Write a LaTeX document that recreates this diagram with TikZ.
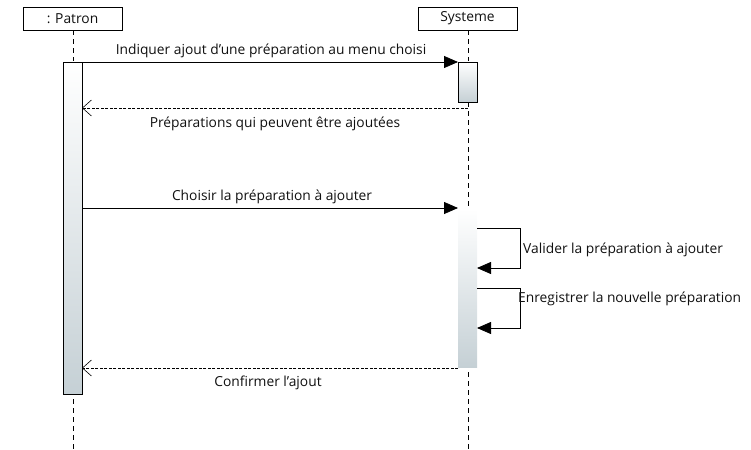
\documentclass[tikz,border=0pt]{standalone}
\usepackage{fontspec}
\setmainfont{Open Sans}
\usetikzlibrary{arrows.meta}
\definecolor{actbot}{HTML}{C5D0D5}
\definecolor{txt}{HTML}{101010}
\newcommand{\sq}{{\char"27}}
\tikzset{
  x=1pt,y=-1pt,
  every node/.style={font=\fontsize{13.8}{16}\selectfont, text=txt, inner sep=0pt},
  headbox/.style={draw, line width=0.8pt, minimum width=99pt, minimum height=23pt, fill=white},
  lifeline/.style={dashed, dash pattern=on 5pt off 4pt, line width=0.8pt},
  actbox/.style={top color=white, bottom color=actbot},
  msg/.style={line width=0.8pt, -{Triangle[length=14pt,width=12pt]}},
  ret/.style={line width=0.6pt, dash pattern=on 3pt off 1.5pt, -{Straight Barb[length=9pt,width=16pt,line width=0.6pt]}},
}
\begin{document}
\begin{tikzpicture}
\useasboundingbox (0,0) rectangle (751,449);
% heads
\node[headbox] (patron) at (72.5,18.5) {: Patron};
\node[headbox] (systeme) at (467.5,18.5) {Systeme};
\coordinate (pend) at (73,449);
\coordinate (send) at (468,449);
\draw[lifeline] (patron.south -| pend) -- (pend);
\draw[lifeline] (systeme.south -| send) -- (send);
% activations
\path[actbox, draw, line width=0.8pt] (63,62) rectangle (82,394);
\node[minimum width=19pt, minimum height=332pt] (pact) at (72.5,228) {};
\path[actbox, draw, line width=0.8pt] (458,62) rectangle (477,102);
\node[minimum width=19pt, minimum height=40pt] (sact1) at (467.5,82) {};
\path[actbox] (458,209) rectangle (477,367);
\node[minimum width=19pt, minimum height=158pt] (sact2) at (467.5,288) {};
% messages
\coordinate (m1s) at (82,62);
\coordinate (m1e) at (458,62);
\draw[msg] (m1s) -- (m1e);
\node (l1) at (271,50.5) {Indiquer ajout d\sq une préparation au menu choisi};
\coordinate (r1s) at (468,108);
\coordinate (r1e) at (82,108);
\draw[ret] (r1s) -- (r1e);
\node (l2) at (275,123.5) {Préparations qui peuvent être ajoutées};
\coordinate (m2s) at (82,208);
\coordinate (m2e) at (458,208);
\draw[msg] (m2s) -- (m2e);
\node (l3) at (272,196.5) {Choisir la préparation à ajouter};
% self calls
\coordinate (s1a) at (477,228);
\coordinate (s1b) at (477,268);
\draw[msg] (s1a) -- (520,228) -- (520,268) -- (s1b);
\node[anchor=west] (l4) at (523,250) {Valider la préparation à ajouter};
\coordinate (s2a) at (477,288);
\coordinate (s2b) at (477,328);
\draw[msg] (s2a) -- (520,288) -- (520,328) -- (s2b);
\node[anchor=west] (l5) at (518,299) {Enregistrer la nouvelle préparation};
% final return
\coordinate (r2s) at (458,368);
\coordinate (r2e) at (82,368);
\draw[ret] (r2s) -- (r2e);
\node (l6) at (268,382.5) {Confirmer l\sq ajout};
\end{tikzpicture}
\end{document}
